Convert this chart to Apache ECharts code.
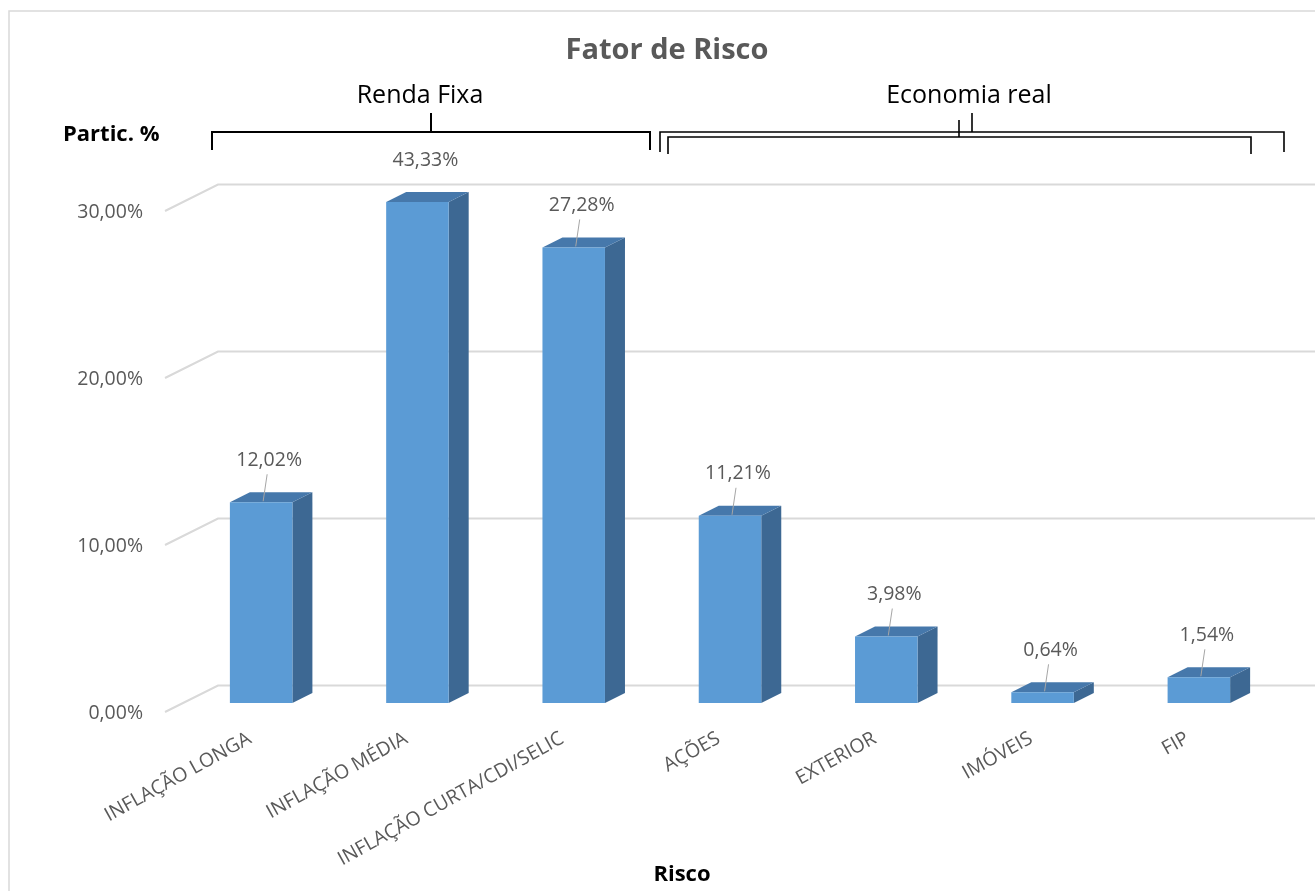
<!DOCTYPE html>
<html>
<head>
<meta charset="utf-8">
<title>Fator de Risco</title>
<script src="https://cdn.jsdelivr.net/npm/echarts@6/dist/echarts.min.js"></script>
<style>
  html, body { margin: 0; padding: 0; background: #ffffff; }
  #chart { width: 1315px; height: 891px; }
</style>
</head>
<body>
<div id="chart"></div>
<script>
// Risk factor categories and their share of the portfolio (%)
const categories = ['INFLAÇÃO LONGA', 'INFLAÇÃO MÉDIA', 'INFLAÇÃO CURTA/CDI/SELIC', 'AÇÕES', 'EXTERIOR', 'IMÓVEIS', 'FIP'];
const shares = [12.02, 43.33, 27.28, 11.21, 3.98, 0.64, 1.54];
// Value axis ticks (%)
const yTicks = [0, 10, 20, 30];

const Y_MIN = yTicks[0];
const Y_MAX = yTicks[yTicks.length - 1];
const Y_STEP = yTicks[1] - yTicks[0];

const FONT = '"Open Sans", "Noto Sans", sans-serif';
const GREY_TEXT = '#595959';

// Oblique projection offsets (px) relative to the plane of the bar fronts
const BAR_DEPTH = { dx: 20, dy: 10 };   // bar side / top depth
const WALL = { dx: 35, dy: 17.5 };      // back wall
const FRONT = { dx: -18, dy: 9 };       // front edge of the floor
const LABEL_OFFSET = { dx: 8, dy: -42 };

function pct(v) {
  return v.toFixed(2).replace('.', ',') + '%';
}

const chart = echarts.init(document.getElementById('chart'), null, { renderer: 'canvas' });

// Back-wall gridlines, drawn with a diagonal step onto the floor edge
function renderWall(params, api) {
  const v = api.value(1);
  const p = api.coord([0, v]);
  const gx = params.coordSys.x;
  const y = p[1];
  return {
    type: 'polyline',
    shape: {
      points: [
        [gx + FRONT.dx, y + FRONT.dy],
        [gx + WALL.dx, y - WALL.dy],
        [api.getWidth() + 5, y - WALL.dy]
      ]
    },
    style: { stroke: '#d9d9d9', lineWidth: 2, fill: null },
    silent: true
  };
}

// 3D-look column: front face, right side face, top face, leader line and value label
function renderBar(params, api) {
  const idx = api.value(0);
  const v = api.value(1);
  const shown = Math.min(v, Y_MAX);
  const base = api.coord([idx, Y_MIN]);
  const top = api.coord([idx, shown]);
  const bw = api.size([1, 0])[0] * 0.4;
  const x0 = base[0] - bw / 2;
  const x1 = base[0] + bw / 2;
  const yb = base[1];
  const yt = top[1];
  const dx = BAR_DEPTH.dx, dy = BAR_DEPTH.dy;

  const lx = base[0] + LABEL_OFFSET.dx;
  const ly = yt + LABEL_OFFSET.dy;

  const children = [
    {
      type: 'polygon',
      shape: { points: [[x1, yt], [x1 + dx, yt - dy], [x1 + dx, yb - dy], [x1, yb]] },
      style: { fill: '#3d6893' }
    },
    {
      type: 'polygon',
      shape: { points: [[x0, yt], [x0 + dx, yt - dy], [x1 + dx, yt - dy], [x1, yt]] },
      style: { fill: '#4678ab' }
    },
    {
      type: 'rect',
      shape: { x: x0, y: yt, width: bw, height: yb - yt },
      style: { fill: '#5b9bd5' }
    }
  ];
  if (v <= Y_MAX) {
    children.push({
      type: 'line',
      shape: { x1: lx - 2, y1: ly + 14, x2: base[0] + 2, y2: yt - 1 },
      style: { stroke: '#a6a6a6', lineWidth: 1 }
    });
  }
  children.push({
    type: 'text',
    style: {
      text: pct(v),
      x: lx,
      y: ly,
      align: 'center',
      verticalAlign: 'middle',
      fill: GREY_TEXT,
      font: '19.5px ' + FONT
    }
  });
  return { type: 'group', children: children };
}

function bracket(left, right, y, drop, tickX, tickTop, width) {
  return [
    {
      type: 'polyline',
      shape: { points: [[left, y + drop], [left, y], [right, y], [right, y + drop]] },
      style: { stroke: '#000000', lineWidth: width, fill: null }
    },
    {
      type: 'line',
      shape: { x1: tickX, y1: y, x2: tickX, y2: tickTop },
      style: { stroke: '#000000', lineWidth: width }
    }
  ];
}

const option = {
  backgroundColor: '#ffffff',
  animation: false,
  grid: { left: 183, top: 202, width: 1094, height: 501, containLabel: false },
  xAxis: {
    type: 'category',
    data: categories,
    axisLine: { show: false },
    axisTick: { show: false },
    splitLine: { show: false },
    axisLabel: {
      interval: 0,
      rotate: 29,
      margin: 28,
      padding: [0, 13, 0, 0],
      color: GREY_TEXT,
      fontFamily: FONT,
      fontSize: 19.5
    }
  },
  yAxis: {
    type: 'value',
    min: Y_MIN,
    max: Y_MAX,
    interval: Y_STEP,
    axisLine: { show: false },
    axisTick: { show: false },
    splitLine: { show: false },
    axisLabel: {
      margin: 40,
      verticalAlign: 'top',
      lineHeight: 20,
      color: GREY_TEXT,
      fontFamily: FONT,
      fontSize: 19.5,
      formatter: function (v) { return pct(v); }
    }
  },
  series: [
    {
      type: 'custom',
      name: 'grid',
      z: 1,
      silent: true,
      renderItem: renderWall,
      data: yTicks.map(function (v) { return [0, v]; })
    },
    {
      type: 'custom',
      name: 'Partic. %',
      z: 2,
      renderItem: renderBar,
      encode: { x: 0, y: 1 },
      data: shares.map(function (v, i) { return [i, v]; })
    }
  ],
  graphic: [
    {
      type: 'rect',
      shape: { x: 9, y: 11, width: 1400, height: 1000 },
      style: { fill: null, stroke: '#d9d9d9', lineWidth: 1.5 },
      silent: true,
      z: -10
    },
    {
      type: 'text',
      style: {
        text: 'Fator de Risco', x: 667, y: 51, align: 'center', verticalAlign: 'middle',
        fill: GREY_TEXT, font: 'bold 29px ' + FONT
      }
    },
    {
      type: 'text',
      style: {
        text: 'Partic. %', x: 63, y: 135, align: 'left', verticalAlign: 'middle',
        fill: '#000000', font: 'bold 22px ' + FONT
      }
    },
    {
      type: 'text',
      style: {
        text: 'Risco', x: 682, y: 875, align: 'center', verticalAlign: 'middle',
        fill: '#000000', font: 'bold 22px ' + FONT
      }
    },
    {
      type: 'text',
      style: {
        text: 'Renda Fixa', x: 420, y: 96, align: 'center', verticalAlign: 'middle',
        fill: '#000000', font: '25px ' + FONT
      }
    },
    {
      type: 'text',
      style: {
        text: 'Economia real', x: 969, y: 96, align: 'center', verticalAlign: 'middle',
        fill: '#000000', font: '25px ' + FONT
      }
    }
  ]
    .concat(bracket(212, 650, 132, 18, 431, 113, 2))
    .concat(bracket(660, 1284, 132, 20, 972, 113, 1.6))
    .concat(bracket(668, 1251, 137, 17, 959, 120, 1.6))
};

chart.setOption(option);
</script>
</body>
</html>
